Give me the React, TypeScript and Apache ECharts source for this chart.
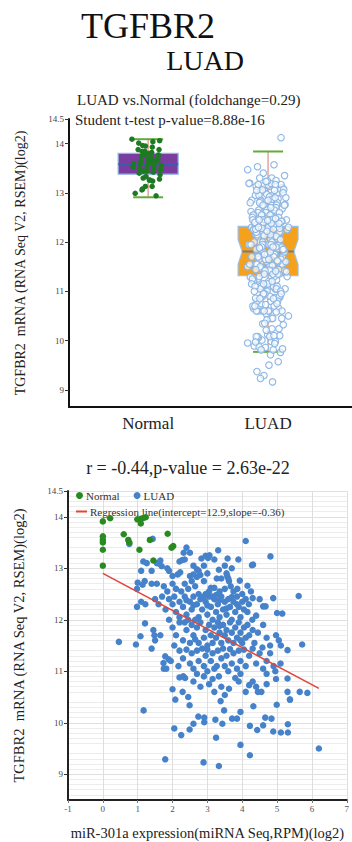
import { useEffect, useRef } from 'react';
import * as echarts from 'echarts';

const SERIF = "'Liberation Serif', 'DejaVu Serif', serif";

// ---- Box plot (top) ----
const groups = ['Normal', 'LUAD'];
const groupPos = [1, 2];
const whiskerLow = [12.91, 9.77];
const q1 = [13.38, 11.32];
const median = [13.58, 11.81];
const q3 = [13.8, 12.32];
const whiskerHigh = [14.09, 13.84];
const notchLow = [13.52, 11.55];
const notchHigh = [13.64, 12.05];
const boxYTicks = [9, 10, 11, 12, 13, 14, 14.5];

const normalExpr = [
  14.09, 14.04, 14.01, 14.06, 13.95, 13.96, 13.93, 13.88, 13.88, 13.84, 13.84, 13.82, 13.8,
  13.77, 13.77, 13.74, 13.7, 13.69, 13.67, 13.64, 13.64, 13.62, 13.6, 13.6, 13.6, 13.58,
  13.56, 13.53, 13.53, 13.51, 13.49, 13.47, 13.44, 13.44, 13.42, 13.4, 13.37, 13.33, 13.3,
  13.24, 13.26, 13.28, 13.13, 13.08, 13.13, 13.26, 12.99, 12.94, 13.06, 13.7,
];
const luadOnlyExpr = [14.12];

// ---- Scatter (bottom): [miR-301a, TGFBR2] ----
const luadPoints = [
  [0.76, 13.47], [1.43, 13.57], [1.16, 13.13], [1.26, 13.1], [1.62, 13.09], [1.69, 13.04], [1.1, 12.95], [1.4, 12.95],
  [1.55, 13.1], [1.65, 13.15], [1.85, 13.0], [1.9, 12.95], [2.2, 13.13], [2.35, 13.17], [2.4, 13.4], [2.5, 13.3],
  [2.32, 13.3], [2.28, 13.16], [2.6, 13.05], [2.7, 12.98], [2.75, 12.95], [2.83, 13.19], [2.95, 13.24], [3.02, 13.2],
  [3.06, 13.25], [3.2, 13.17], [3.31, 13.35], [3.33, 12.97], [3.58, 13.19], [3.89, 13.17], [4.1, 13.53], [4.31, 13.07],
  [4.81, 13.23], [4.28, 13.06], [3.5, 13.05], [2.9, 13.05], [3.7, 13.0],
  [1.0, 12.72], [1.2, 12.75], [1.4, 12.7], [1.55, 12.7], [1.14, 12.68], [0.98, 12.6], [2.0, 12.85], [2.15, 12.88],
  [2.22, 12.92], [2.5, 12.85], [2.6, 12.88], [2.7, 12.83], [2.8, 12.87], [3.1, 12.62], [3.2, 12.62], [3.27, 12.8],
  [3.4, 12.8], [3.55, 12.9], [3.57, 12.85], [3.6, 12.8], [3.62, 12.75], [3.67, 12.65], [3.93, 12.76], [4.15, 12.66],
  [3.86, 12.6], [2.35, 12.7], [2.45, 12.6], [2.55, 12.75], [2.65, 12.65], [2.9, 12.75], [3.0, 12.9], [3.05, 12.55],
  [2.25, 12.55], [2.1, 12.6], [1.85, 12.55], [1.75, 12.65], [2.0, 12.7], [3.35, 12.55], [3.5, 12.6], [3.75, 12.55],
  [4.0, 12.5], [4.25, 12.55], [2.75, 12.5], [2.95, 12.5], [3.15, 12.45],
  [0.98, 12.25], [1.1, 12.35], [1.22, 12.3], [1.5, 12.4], [1.6, 12.3], [1.7, 12.45], [1.8, 12.2], [1.9, 12.4],
  [2.0, 12.3], [2.05, 12.45], [2.1, 12.15], [2.2, 12.35], [2.3, 12.25], [2.35, 12.45], [2.4, 12.1], [2.5, 12.35],
  [2.55, 12.2], [2.6, 12.45], [2.7, 12.3], [2.75, 12.05], [2.8, 12.4], [2.85, 12.2], [2.95, 12.35], [3.0, 12.1],
  [3.05, 12.45], [3.1, 12.25], [3.2, 12.4], [3.25, 12.15], [3.3, 12.3], [3.35, 12.05], [3.4, 12.45], [3.45, 12.2],
  [3.5, 12.35], [3.55, 12.1], [3.6, 12.4], [3.65, 12.25], [3.7, 12.0], [3.75, 12.35], [3.8, 12.15], [3.85, 12.45],
  [3.9, 12.25], [3.95, 12.05], [4.0, 12.35], [4.05, 12.2], [4.19, 12.3], [4.29, 12.0], [4.4, 12.08], [4.6, 12.26],
  [4.67, 12.26], [4.89, 12.42], [5.0, 12.13], [5.15, 12.12], [5.62, 12.46], [4.5, 12.4], [4.3, 12.42], [4.1, 12.4],
  [3.15, 12.0], [2.65, 12.0], [2.45, 12.0], [2.2, 12.05], [1.9, 12.0], [2.9, 12.45], [3.35, 12.38], [3.7, 12.44],
  [3.0, 12.28], [2.6, 12.28], [3.85, 12.3], [4.15, 12.15], [3.55, 12.22], [2.4, 12.38], [3.25, 12.48],
  [0.46, 11.57], [0.95, 11.52], [1.08, 11.68], [1.21, 11.93], [1.45, 11.8], [1.48, 11.7], [1.5, 11.6], [1.65, 11.7],
  [2.05, 11.5], [1.4, 11.44], [2.0, 11.85], [2.1, 11.7], [2.2, 11.95], [2.3, 11.6], [2.4, 11.8], [2.5, 11.55],
  [2.55, 11.9], [2.6, 11.7], [2.7, 11.85], [2.75, 11.55], [2.8, 11.95], [2.9, 11.65], [2.95, 11.8], [3.0, 11.5],
  [3.05, 11.9], [3.1, 11.7], [3.15, 11.55], [3.2, 11.85], [3.25, 11.65], [3.3, 11.95], [3.35, 11.75], [3.4, 11.55],
  [3.45, 11.9], [3.5, 11.7], [3.55, 11.8], [3.6, 11.6], [3.65, 11.95], [3.7, 11.75], [3.75, 11.55], [3.8, 11.85],
  [3.85, 11.65], [3.9, 11.95], [3.95, 11.75], [4.0, 11.55], [4.05, 11.85], [4.1, 11.65], [4.15, 11.9], [4.2, 11.7],
  [4.3, 11.8], [4.35, 11.55], [4.45, 11.75], [4.58, 11.46], [4.6, 11.9], [4.8, 11.5], [4.97, 11.7], [5.05, 11.6],
  [5.11, 11.5], [5.72, 11.52], [4.7, 11.65], [2.35, 11.95], [2.65, 11.62], [3.35, 11.88], [3.95, 11.6],
  [1.74, 11.16], [1.79, 11.29], [1.89, 11.23], [1.95, 11.2], [1.75, 11.05], [1.82, 11.05], [2.17, 11.1], [2.2, 11.4],
  [2.3, 11.25], [2.4, 11.42], [2.5, 11.15], [2.55, 11.35], [2.6, 11.05], [2.7, 11.4], [2.75, 11.2], [2.85, 11.44],
  [2.9, 11.1], [2.95, 11.3], [3.0, 11.42], [3.1, 11.2], [3.15, 11.35], [3.2, 11.05], [3.27, 11.1], [3.3, 11.4],
  [3.4, 11.25], [3.45, 11.44], [3.5, 11.1], [3.55, 11.3], [3.65, 11.43], [3.7, 11.15], [3.75, 11.35], [3.85, 11.05],
  [3.9, 11.4], [3.95, 11.2], [4.05, 11.42], [4.1, 11.1], [4.2, 11.3], [4.3, 11.44], [4.4, 11.15], [4.5, 11.35],
  [4.6, 11.05], [4.8, 11.35], [4.9, 11.1], [4.95, 11.0], [5.1, 11.15], [5.3, 11.41], [4.7, 11.2], [3.0, 11.0], [3.6, 11.0],
  [2.31, 10.9], [2.36, 10.87], [2.08, 10.45], [2.0, 10.65], [2.2, 10.88], [2.29, 10.6], [2.45, 10.5], [2.6, 10.8],
  [2.8, 10.7], [2.9, 10.9], [3.05, 10.75], [3.2, 10.6], [3.33, 10.9], [3.5, 10.54], [3.62, 10.66], [3.8, 10.87],
  [3.9, 10.8], [4.1, 10.6], [4.2, 10.73], [4.3, 10.8], [4.4, 10.7], [4.45, 10.6], [4.55, 10.6], [4.7, 10.95],
  [4.7, 10.75], [4.97, 10.85], [5.3, 10.86], [5.3, 10.6], [5.65, 10.6], [5.87, 10.58], [5.37, 10.45], [3.4, 10.7],
  [2.7, 10.95], [3.95, 10.95], [3.15, 10.85],
  [1.17, 10.24], [2.05, 9.89], [2.25, 9.76], [2.49, 10.34], [2.49, 9.87], [2.6, 9.98], [2.74, 10.12], [2.91, 10.1],
  [2.91, 10.01], [3.23, 10.06], [3.25, 9.71], [3.38, 10.42], [3.48, 10.24], [3.43, 9.98], [3.71, 10.08], [3.85, 10.08],
  [3.95, 10.21], [3.95, 9.57], [4.22, 9.94], [4.22, 9.37], [4.32, 10.32], [4.43, 9.86], [4.6, 9.95], [4.66, 10.1],
  [4.84, 10.08], [4.89, 9.83], [4.99, 10.35], [5.11, 9.81], [5.31, 9.81], [5.31, 9.97], [5.37, 10.45], [1.79, 9.29],
  [2.89, 9.23], [3.33, 9.16], [6.2, 9.5],
];
const normalPoints = [
  [0, 13.91], [0, 13.62], [0, 13.55], [0, 13.5], [0, 13.36], [0, 13.05], [0.21, 13.97], [0.6, 13.66],
  [0.73, 13.55], [0.76, 13.5], [0.99, 13.95], [1.09, 13.96], [1.15, 13.97], [1.23, 13.99], [1.09, 13.87],
  [1.05, 13.36], [1.35, 13.55], [1.45, 13.15], [1.86, 13.67], [1.97, 13.4], [2.02, 13.43],
];
const regressionIntercept = 12.9;
const regressionSlope = -0.36;
const regressionX = [0, 6.2];
const scatterYTicks = [9, 10, 11, 12, 13, 14, 14.5];
const regName = 'Regression line(intercept=12.9,slope=-0.36)';

const jitter = (i: number, spread: number) =>
  ((((i * 37) % 23) / 22) * 0.7 + (((i * 11) % 7) / 6) * 0.3 - 0.5) * spread;

const boxFill = ['#7B3C9F', '#F4A11D'];
const boxStroke = ['#8DB4E6', '#9DC0E8'];
const medColor = ['#3A5CAE', '#6E7E95'];
const notchInset = [0, 0.035];

export default function App() {
  const ref = useRef<HTMLDivElement>(null);
  useEffect(() => {
    if (!ref.current) return;
    const chart = echarts.init(ref.current, undefined, { renderer: 'svg' });
    const luadExpr = [...luadPoints.map((p) => p[1]), ...luadOnlyExpr];
    const yName = 'TGFBR2  mRNA (RNA Seq V2, RSEM)(log2)';
    const option: any = {
      animation: false,
      backgroundColor: '#ffffff',
      graphic: [
        { type: 'text', x: 148, y: 26, style: { text: 'TGFBR2', font: `36px ${SERIF}`, fill: '#111', align: 'center', verticalAlign: 'middle' } },
        { type: 'text', x: 205, y: 60, style: { text: 'LUAD', font: `28px ${SERIF}`, fill: '#111', align: 'center', verticalAlign: 'middle' } },
        { type: 'text', x: 77, y: 100, style: { text: 'LUAD vs.Normal (foldchange=0.29)', font: `15px ${SERIF}`, fill: '#222', align: 'left', verticalAlign: 'middle' } },
        { type: 'text', x: 75, y: 120, style: { text: 'Student t-test p-value=8.88e-16', font: `15px ${SERIF}`, fill: '#222', align: 'left', verticalAlign: 'middle' } },
        { type: 'text', x: 188, y: 468, style: { text: 'r = -0.44,p-value = 2.63e-22', font: `18px ${SERIF}`, fill: '#222', align: 'center', verticalAlign: 'middle' } },
      ],
      legend: [
        {
          data: ['Normal', 'LUAD'], left: 71, top: 485, icon: 'circle', itemWidth: 7, itemHeight: 7, itemGap: 14,
          textStyle: { fontFamily: SERIF, fontSize: 11, color: '#333', padding: [0, 0, 0, -2] },
        },
        {
          data: [regName], left: 71, top: 501, icon: 'rect', itemWidth: 11, itemHeight: 2,
          textStyle: { fontFamily: SERIF, fontSize: 11, color: '#333', padding: [0, 0, 0, -2] },
        },
      ],
      grid: [
        { left: 69, top: 119, width: 290, height: 288 },
        { left: 68, top: 491, width: 282, height: 309 },
      ],
      xAxis: [
        {
          gridIndex: 0, type: 'value', min: 0.34, max: 2.7,
          axisLine: { onZero: false, lineStyle: { color: '#111', width: 2 } },
          axisTick: { show: false },
          splitLine: { show: false },
          axisLabel: {
            customValues: groupPos,
            formatter: (v: number) => groups[groupPos.indexOf(v)] ?? '',
            fontFamily: SERIF, fontSize: 17, color: '#222', margin: 8,
          },
        },
        {
          gridIndex: 1, type: 'value', min: -1, max: 7, interval: 1,
          axisLine: { onZero: false, lineStyle: { color: '#222', width: 2 } },
          axisTick: { show: true, length: 3, lineStyle: { color: '#777' } },
          splitLine: { show: true, lineStyle: { color: '#dedede' } },
          axisLabel: { fontFamily: SERIF, fontSize: 9, color: '#555', margin: 4 },
          name: 'miR-301a expression(miRNA Seq,RPM)(log2)', nameLocation: 'middle', nameGap: 25,
          nameTextStyle: { fontFamily: SERIF, fontSize: 14.5, color: '#222' },
        },
      ],
      yAxis: [
        {
          gridIndex: 0, type: 'value', min: 8.65, max: 14.5,
          axisLine: { show: true, onZero: false, lineStyle: { color: '#111', width: 2 } },
          axisTick: { show: true, length: 4, customValues: boxYTicks, lineStyle: { color: '#333' } },
          splitLine: { show: false },
          axisLabel: { customValues: boxYTicks, fontFamily: SERIF, fontSize: 9, color: '#444', margin: 5 },
          name: yName, nameLocation: 'middle', nameGap: 42, nameRotate: 90,
          nameTextStyle: { fontFamily: SERIF, fontSize: 14, color: '#222' },
        },
        {
          gridIndex: 1, type: 'value', min: 8.5, max: 14.5, interval: 0.5,
          axisLine: { show: true, onZero: false, lineStyle: { color: '#222', width: 2 } },
          axisTick: { show: true, length: 4, customValues: scatterYTicks, lineStyle: { color: '#333' } },
          splitLine: { show: true, lineStyle: { color: '#e0e0e0' } },
          minorTick: { show: false, splitNumber: 5 },
          minorSplitLine: { show: true, lineStyle: { color: '#ececec' } },
          axisLabel: { customValues: scatterYTicks, fontFamily: SERIF, fontSize: 9, color: '#444', margin: 5 },
          name: yName, nameLocation: 'middle', nameGap: 42, nameRotate: 90,
          nameTextStyle: { fontFamily: SERIF, fontSize: 14.5, color: '#222' },
        },
      ],
      series: [
        {
          name: 'Box', type: 'custom', xAxisIndex: 0, yAxisIndex: 0, z: 1,
          data: groupPos.map((p, i) => [p, median[i]]),
          encode: { x: 0, y: 1 },
          renderItem: (params: any, api: any) => {
            const i = params.dataIndex;
            const x = api.value(0);
            const c = (v: number) => api.coord([x, v]);
            const hw = api.size([0.25, 0])[0];
            const cap = api.size([0.125, 0])[0];
            const ins = api.size([notchInset[i], 0])[0];
            const lo = c(whiskerLow[i]), hi = c(whiskerHigh[i]);
            const b1 = c(q1[i]), b3 = c(q3[i]), md = c(median[i]);
            const nl = c(notchLow[i]), nh = c(notchHigh[i]);
            const cx = md[0];
            return {
              type: 'group',
              children: [
                { type: 'line', shape: { x1: cx, y1: lo[1], x2: cx, y2: hi[1] }, style: { stroke: '#E6A49C', lineWidth: 1.5 } },
                { type: 'line', shape: { x1: cx - cap, y1: lo[1], x2: cx + cap, y2: lo[1] }, style: { stroke: '#62AC3A', lineWidth: 2 } },
                { type: 'line', shape: { x1: cx - cap, y1: hi[1], x2: cx + cap, y2: hi[1] }, style: { stroke: '#62AC3A', lineWidth: 2 } },
                {
                  type: 'polygon',
                  shape: {
                    points: [
                      [cx - hw, b3[1]], [cx + hw, b3[1]], [cx + hw, nh[1]], [cx + hw - ins, md[1]], [cx + hw, nl[1]],
                      [cx + hw, b1[1]], [cx - hw, b1[1]], [cx - hw, nl[1]], [cx - hw + ins, md[1]], [cx - hw, nh[1]],
                    ],
                  },
                  style: { fill: boxFill[i], stroke: boxStroke[i], lineWidth: 1.2 },
                },
                { type: 'line', shape: { x1: cx - hw + ins, y1: md[1], x2: cx + hw - ins, y2: md[1] }, style: { stroke: medColor[i], lineWidth: 2 } },
              ],
            };
          },
        },
        {
          name: 'Normal samples', type: 'scatter', xAxisIndex: 0, yAxisIndex: 0, z: 3,
          symbolSize: 5.5, itemStyle: { color: '#1E7A22', opacity: 1 },
          data: normalExpr.map((v, i) => [groupPos[0] + jitter(i, 0.27), v]),
        },
        {
          name: 'LUAD samples', type: 'scatter', xAxisIndex: 0, yAxisIndex: 0, z: 3,
          symbolSize: 6.5,
          itemStyle: { color: 'rgba(250,252,255,0.7)', borderColor: '#8FB7E3', borderWidth: 1.1, opacity: 1 },
          data: luadExpr.map((v, i) => [groupPos[1] + jitter(i, 0.34), v]),
        },
        {
          name: 'LUAD', type: 'scatter', xAxisIndex: 1, yAxisIndex: 1, z: 3,
          symbolSize: 6.5, itemStyle: { color: '#4582CA', opacity: 1 },
          data: luadPoints,
        },
        {
          name: 'Normal', type: 'scatter', xAxisIndex: 1, yAxisIndex: 1, z: 4,
          symbolSize: 6.5, itemStyle: { color: '#2A8A22', opacity: 1 },
          data: normalPoints,
        },
        {
          name: regName, type: 'line', xAxisIndex: 1, yAxisIndex: 1, z: 5,
          symbol: 'none', lineStyle: { color: '#E0443A', width: 1.5 }, itemStyle: { color: '#E0443A' },
          data: regressionX.map((x) => [x, regressionIntercept + regressionSlope * x]),
        },
      ],
    };
    chart.setOption(option);
    return () => chart.dispose();
  }, []);
  return (
    <div
      ref={ref}
      style={{ position: 'fixed', left: 0, top: 0, width: 352, height: 842, background: '#fff' }}
    />
  );
}
